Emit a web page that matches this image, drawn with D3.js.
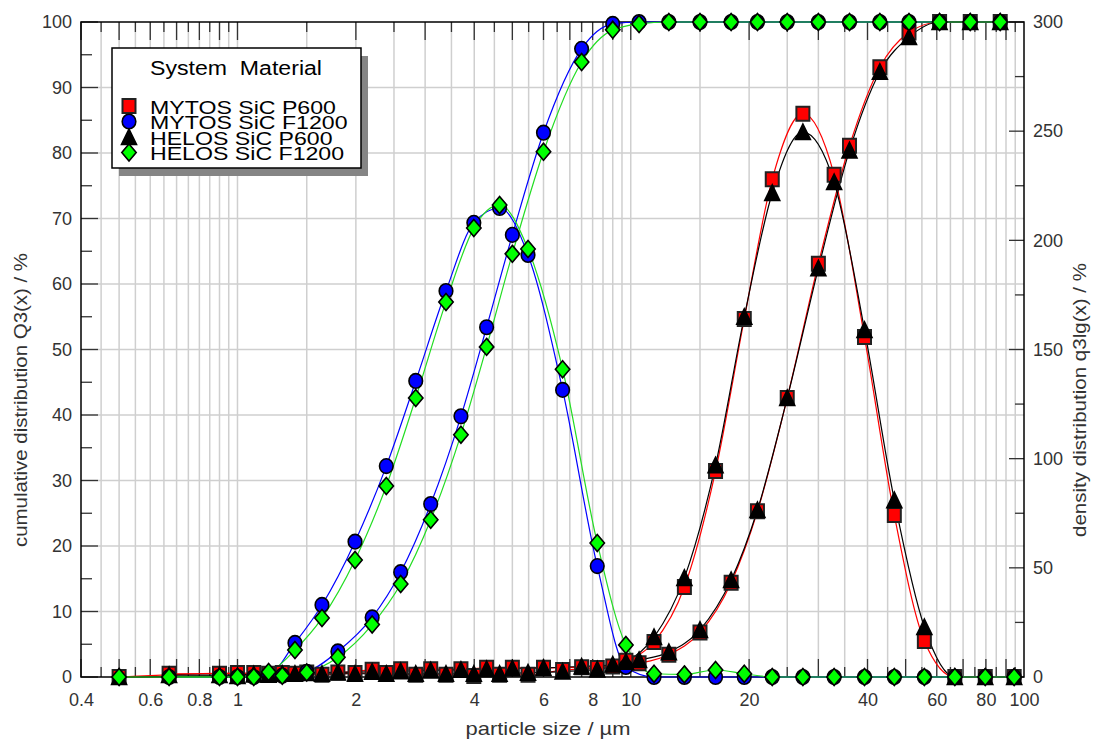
<!DOCTYPE html>
<html>
<head>
<meta charset="utf-8">
<script src="https://cdn.jsdelivr.net/npm/d3@7"></script>
<style>
  body { margin: 0; background: #fff; }
  svg text { font-family: "Liberation Sans", Arial, sans-serif; }
</style>
</head>
<body>
<div id="psd_chart"></div>
<script>
// particle size classes in µm: upper class limits (Q3 points) and class centres (q3lg points)
const cumX = [0.67, 0.9, 1.1, 1.3, 1.5, 1.8, 2.2, 2.6, 3.1, 3.7, 4.3, 5.0, 6.0, 7.5, 9.0,
              10.5, 12.5, 15, 18, 21, 25, 30, 36, 43, 51, 61, 73, 87];
const denX = [0.5, 1.0, 1.2, 1.4, 1.64, 1.99, 2.39, 2.84, 3.39, 3.99, 4.64, 5.48, 6.71, 8.22, 9.72,
              11.46, 13.69, 16.43, 19.44, 22.9, 27.4, 32.9, 39.3, 46.8, 55.8, 66.7, 79.7, 94.4];

// cumulative distribution Q3(x) / %  (left axis)
const mytosP600_Q3  = [0.5, 0.5, 0.6, 0.6, 0.7, 0.7, 1.1, 1.2, 1.2, 1.2, 1.4, 1.4, 1.4, 1.5, 1.6,
                       2.1, 3.4, 6.8, 14.4, 25.3, 42.6, 63.1, 81.1, 93.1, 98.4, 100, 100, 100];
const mytosF1200_Q3 = [0, 0, 0, 0.2, 0.8, 3.9, 9.1, 16.0, 26.4, 39.8, 53.4, 67.5, 83.1, 95.9, 99.7,
                       100, 100, 100, 100, 100, 100, 100, 100, 100, 100, 100, 100, 100];
const helosP600_Q3  = [0.3, 0.3, 0.4, 0.5, 0.6, 0.7, 0.8, 0.9, 1.0, 1.1, 1.2, 1.3, 1.4, 1.6, 1.9,
                       2.6, 3.8, 7.2, 14.8, 25.5, 42.6, 62.4, 80.4, 92.4, 97.7, 100, 100, 100];
const helosF1200_Q3 = [0, 0, 0, 0.2, 0.7, 3.0, 8.0, 14.2, 24.0, 37.0, 50.4, 64.6, 80.2, 93.9, 98.8,
                       99.7, 100, 100, 100, 100, 100, 100, 100, 100, 100, 100, 100, 100];

// density distribution q3lg(x) / %  (right axis)
const mytosP600_q3  = [0, 1.8, 1.5, 1.5, 1.0, 1.8, 1.8, 1.0, 1.0, 0.5, 1.0, 1.0, 3.2, 4.1, 7.5,
                       16, 41.2, 94.3, 164, 228, 258, 230, 155.7, 74.2, 16.5, 0, 0, 0];
const mytosF1200_q3 = [null, 0, 1.0, 15.6, 33, 62, 96.6, 135.6, 176.8, 208, 214.8, 193.3, 131.5, 50.8, 4.6,
                       0, 0, 0, 0, 0, 0, 0, 0, 0, 0, 0, 0, 0];
const helosP600_q3  = [0, 0.5, 1, 1.5, 1.5, 1.5, 1.5, 1.5, 1.5, 1.5, 1.5, 2, 2.5, 3.5, 7,
                       18.3, 45.4, 97, 165, 221.7, 249.6, 226.7, 159, 81, 22.9, 0, 0, 0];
const helosF1200_q3 = [0, 0, 2.3, 12.4, 27, 53.6, 87.5, 127.8, 171.8, 205.6, 216.2, 196, 141, 61.4, 14.7,
                       1.5, 1.2, 3.2, 1.5, 0, 0, 0, 0, 0, 0, 0, 0, 0];

const seriesNames = ["MYTOS SiC P600", "MYTOS SiC F1200", "HELOS SiC P600", "HELOS SiC F1200"];
const xTickLabels = [0.4, 0.6, 0.8, 1, 2, 4, 6, 8, 10, 20, 40, 60, 80, 100];
const yLeftTicks  = [0, 10, 20, 30, 40, 50, 60, 70, 80, 90, 100];
const yRightTicks = [0, 50, 100, 150, 200, 250, 300];

const series = [
  {name: seriesNames[0], q3: mytosP600_Q3,  dq: mytosP600_q3,  line: "#ff0000", fill: "#ff0000", shape: "square"},
  {name: seriesNames[1], q3: mytosF1200_Q3, dq: mytosF1200_q3, line: "#0000ff", fill: "#0000ff", shape: "circle"},
  {name: seriesNames[2], q3: helosP600_Q3,  dq: helosP600_q3,  line: "#000000", fill: "#000000", shape: "triangle"},
  {name: seriesNames[3], q3: helosF1200_Q3, dq: helosF1200_q3, line: "#22dd22", fill: "#00ff00", shape: "diamond"}
];

// set the dimensions and margins of the graph
const margin = {top: 22, right: 74, bottom: 65, left: 81},
      width = 1098 - margin.left - margin.right,
      height = 742 - margin.top - margin.bottom;

const root = d3.select("#psd_chart")
  .append("svg")
    .attr("width", 1098)
    .attr("height", 742);

const svg = root.append("g")
    .attr("transform", `translate(${margin.left},${margin.top})`);

// scales
const x = d3.scaleLog().domain([0.4, 100]).range([0, width]);
const yL = d3.scaleLinear().domain([0, 100]).range([height, 0]);
const yR = d3.scaleLinear().domain([0, 300]).range([height, 0]);

// log grid: every half step of the mantissa
const xGrid = [];
[0.1, 1, 10].forEach(dec => {
  for (let m = 1; m < 10; m += 0.5) {
    const v = +(m * dec).toFixed(3);
    if (v >= 0.4 && v <= 100) xGrid.push({v: v, major: Number.isInteger(m)});
  }
});

svg.append("g").selectAll("line")
  .data(xGrid.filter(d => d.v > 0.4))
  .join("line")
    .attr("x1", d => x(d.v)).attr("x2", d => x(d.v))
    .attr("y1", 0).attr("y2", height)
    .attr("stroke", "#cfcfcf").attr("stroke-width", 1.5);

svg.append("g").selectAll("line")
  .data(yLeftTicks.slice(1, -1))
  .join("line")
    .attr("x1", 0).attr("x2", width)
    .attr("y1", d => yL(d)).attr("y2", d => yL(d))
    .attr("stroke", "#cfcfcf").attr("stroke-width", 1.5);

// inward ticks on all four sides
const ticks = svg.append("g").attr("stroke", "#333").attr("stroke-width", 1.3);
ticks.selectAll(".tt")
  .data(xGrid)
  .join("line")
    .attr("x1", d => x(d.v)).attr("x2", d => x(d.v))
    .attr("y1", 0).attr("y2", d => d.major ? 18 : 10);
ticks.selectAll(".tb")
  .data(xGrid)
  .join("line")
    .attr("x1", d => x(d.v)).attr("x2", d => x(d.v))
    .attr("y1", height).attr("y2", d => height - (d.major ? 18 : 10));
ticks.selectAll(".tl")
  .data(d3.range(0, 101, 5))
  .join("line")
    .attr("x1", 0).attr("x2", d => d % 10 ? 11 : 17)
    .attr("y1", d => yL(d)).attr("y2", d => yL(d));
ticks.selectAll(".tr")
  .data(d3.range(0, 301, 25))
  .join("line")
    .attr("x1", width).attr("x2", d => width - (d % 50 ? 9 : 15))
    .attr("y1", d => yR(d)).attr("y2", d => yR(d));

// frame
svg.append("rect")
  .attr("width", width).attr("height", height)
  .attr("fill", "none").attr("stroke", "#000").attr("stroke-width", 1.5);

// tick labels
const fontFam = '"Liberation Sans", Arial, sans-serif';
svg.append("g")
  .attr("transform", `translate(0,${height})`)
  .call(d3.axisBottom(x).tickValues(xTickLabels).tickFormat(d => d).tickSize(0).tickPadding(16))
  .call(g => g.select(".domain").remove())
  .attr("font-size", 18).attr("font-family", fontFam).attr("color", "#333");

svg.append("g")
  .call(d3.axisLeft(yL).tickValues(yLeftTicks).tickSize(0).tickPadding(9))
  .call(g => g.select(".domain").remove())
  .attr("font-size", 18).attr("font-family", fontFam).attr("color", "#333");

svg.append("g")
  .attr("transform", `translate(${width},0)`)
  .call(d3.axisRight(yR).tickValues(yRightTicks).tickSize(0).tickPadding(9))
  .call(g => g.select(".domain").remove())
  .attr("font-size", 18).attr("font-family", fontFam).attr("color", "#333");

// axis titles
root.append("text")
  .attr("transform", "translate(27,400) rotate(-90)")
  .attr("text-anchor", "middle").attr("font-size", 19).attr("fill", "#333")
  .attr("textLength", 294).attr("lengthAdjust", "spacingAndGlyphs")
  .text("cumulative distribution Q3(x) / %");
root.append("text")
  .attr("transform", "translate(1086,400) rotate(-90)")
  .attr("text-anchor", "middle").attr("font-size", 19).attr("fill", "#333")
  .attr("textLength", 274).attr("lengthAdjust", "spacingAndGlyphs")
  .text("density distribution q3lg(x) / %");
root.append("text")
  .attr("x", 548).attr("y", 735)
  .attr("text-anchor", "middle").attr("font-size", 19).attr("fill", "#333")
  .attr("textLength", 165).attr("lengthAdjust", "spacingAndGlyphs")
  .text("particle size / µm");

// marker shapes (centred on the data point)
function shapePath(shape) {
  if (shape === "square") return "M-6.5,-7H6.5V7H-6.5Z";
  if (shape === "circle") return "M-6.8,0A6.8,7.3 0 1,0 6.8,0A6.8,7.3 0 1,0 -6.8,0Z";
  if (shape === "triangle") return "M0,-8L7.5,7.5H-7.5Z";
  return "M0,-8.5L7.2,0L0,8.5L-7.2,0Z";
}

// lines: cumulative on the left axis, density on the right axis
const lines = svg.append("g").attr("fill", "none").attr("stroke-width", 1.2);
series.forEach(s => {
  const cum = cumX.map((d, i) => ({x: d, y: s.q3[i]})).filter(d => d.y != null);
  const den = denX.map((d, i) => ({x: d, y: s.dq[i]})).filter(d => d.y != null);
  lines.append("path").datum(cum)
    .attr("stroke", s.line)
    .attr("d", d3.line().x(d => x(d.x)).y(d => yL(d.y)).curve(d3.curveMonotoneX));
  lines.append("path").datum(den)
    .attr("stroke", s.line)
    .attr("d", d3.line().x(d => x(d.x)).y(d => yR(d.y)).curve(d3.curveMonotoneX));
});

// markers
series.forEach(s => {
  const pts = cumX.map((d, i) => ({px: x(d), py: yL(s.q3[i]), ok: s.q3[i] != null}))
    .concat(denX.map((d, i) => ({px: x(d), py: yR(s.dq[i]), ok: s.dq[i] != null})))
    .filter(d => d.ok);
  svg.append("g").selectAll("path")
    .data(pts)
    .join("path")
      .attr("transform", d => `translate(${d.px},${d.py})`)
      .attr("d", shapePath(s.shape))
      .attr("fill", s.fill)
      .attr("stroke", s.shape === "square" ? "#222" : "#000")
      .attr("stroke-width", s.shape === "square" ? 2 : 1.6);
});

// legend
const legend = root.append("g").attr("transform", "translate(112,48)");
legend.append("rect")
  .attr("x", 7).attr("y", 8).attr("width", 249).attr("height", 120)
  .attr("fill", "#858585");
legend.append("rect")
  .attr("width", 249).attr("height", 120)
  .attr("fill", "#fff").attr("stroke", "#000").attr("stroke-width", 1.5);
legend.append("text")
  .attr("x", 38).attr("y", 27)
  .attr("font-size", 19.5).attr("fill", "#000")
  .attr("textLength", 172).attr("lengthAdjust", "spacingAndGlyphs")
  .style("white-space", "pre")
  .text("System  Material");

// entries are set tight, as in the original; glyphs are widened a little
const stretch = 1.25;
series.forEach((s, i) => {
  const row = legend.append("g").attr("transform", `translate(0,${58 + i * 15.5})`);
  row.append("path")
    .attr("transform", "translate(17,0)")
    .attr("d", shapePath(s.shape))
    .attr("fill", s.fill)
    .attr("stroke", s.shape === "square" ? "#222" : "#000")
    .attr("stroke-width", s.shape === "square" ? 2 : 1.6);
  const t = row.append("text")
    .attr("x", 38).attr("y", 7.5)
    .attr("font-size", 18.5).attr("fill", "#000")
    .text(s.name);
  t.attr("textLength", t.node().getComputedTextLength() * stretch)
   .attr("lengthAdjust", "spacingAndGlyphs");
});
</script>
</body>
</html>
